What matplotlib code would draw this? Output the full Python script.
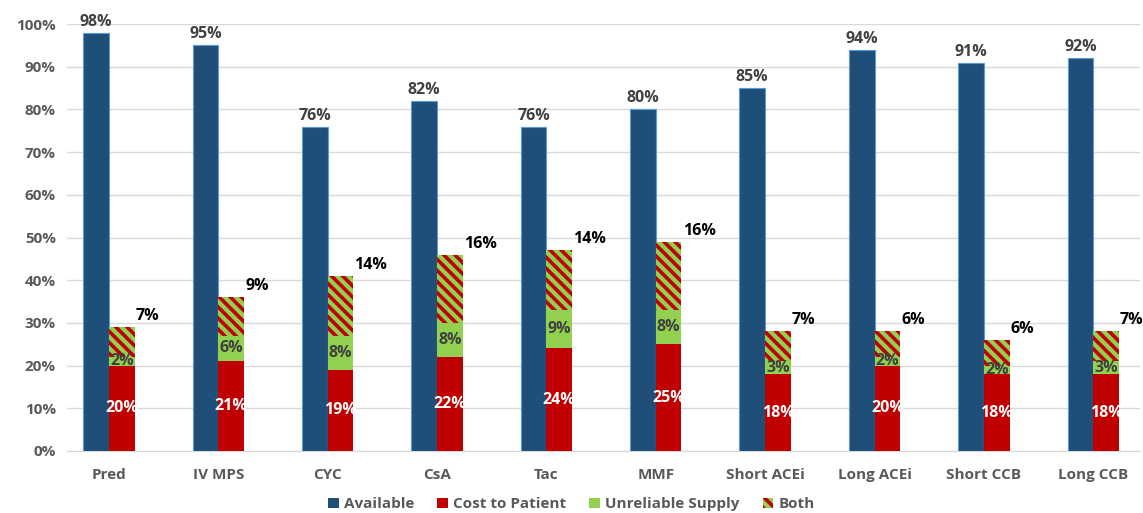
import matplotlib
matplotlib.use("Agg")
import matplotlib.pyplot as plt
from matplotlib.patches import Patch
import numpy as np

plt.rcParams['font.family'] = ['Open Sans', 'DejaVu Sans']
plt.rcParams['font.stretch'] = 'normal'
plt.rcParams['hatch.linewidth'] = 2.6

categories = ["Pred", "IV MPS", "CYC", "CsA", "Tac", "MMF",
              "Short ACEi", "Long ACEi", "Short CCB", "Long CCB"]
available = [98, 95, 76, 82, 76, 80, 85, 94, 91, 92]
cost_to_patient = [20, 21, 19, 22, 24, 25, 18, 20, 18, 18]
unreliable_supply = [2, 6, 8, 8, 9, 8, 3, 2, 2, 3]
both = [7, 9, 14, 16, 14, 16, 7, 6, 6, 7]

BLUE = "#1f4e79"
BLUE_EDGE = "#5b9bd5"
RED = "#c00000"
GREEN = "#92d050"
GRAY = "#595959"
DARK = "#404040"
FS = 11
LFS = 11.5

fig = plt.figure(figsize=(11.43, 5.13), dpi=100)
ax = fig.add_axes([0.0586, 0.121, 0.939, 0.832])

x = np.arange(len(categories))
w = 0.235
xb = x - w / 2
xs = x + w / 2

ax.bar(xb, available, width=w, color=BLUE, edgecolor=BLUE_EDGE, linewidth=0.8, zorder=3)
ax.bar(xs, cost_to_patient, width=w, color=RED, linewidth=0, zorder=3)
bottom2 = np.array(cost_to_patient)
ax.bar(xs, unreliable_supply, width=w, bottom=bottom2, color=GREEN, linewidth=0, zorder=3)
bottom3 = bottom2 + np.array(unreliable_supply)
ax.bar(xs, both, width=w, bottom=bottom3, facecolor=GREEN, edgecolor=RED,
       hatch="\\\\\\", linewidth=0, zorder=3)

for i in range(len(categories)):
    ax.text(xb[i], available[i] + 0.7, f"{available[i]}%", ha="center", va="bottom",
            fontsize=LFS, fontweight="bold", color=DARK, zorder=5)
    ax.text(xs[i], cost_to_patient[i] / 2, f"{cost_to_patient[i]}%", ha="center",
            va="center", fontsize=LFS, fontweight="bold", color="white", zorder=5)
    ax.text(xs[i], bottom2[i] + unreliable_supply[i] / 2, f"{unreliable_supply[i]}%",
            ha="center", va="center", fontsize=LFS, fontweight="bold", color=DARK, zorder=5)
    top = bottom3[i] + both[i]
    ax.text(xs[i] + w / 2 + 0.01, top + 0.7, f"{both[i]}%", ha="left", va="bottom",
            fontsize=LFS, fontweight="bold", color="black", zorder=5)

ax.set_ylim(0, 100)
ax.set_xlim(-0.384, 9.43)
ax.set_yticks(np.arange(0, 101, 10))
ax.set_yticklabels([f"{v}%" for v in range(0, 101, 10)])
ax.set_xticks(x)
ax.set_xticklabels(categories)
ax.tick_params(axis="both", length=0, labelsize=FS, colors=GRAY)
ax.tick_params(axis="x", pad=12)
ax.tick_params(axis="y", pad=8)
for lab in ax.get_xticklabels() + ax.get_yticklabels():
    lab.set_fontweight("bold")
ax.grid(axis="y", color="#d9d9d9", linewidth=1.0, zorder=0)
for s in ["top", "right", "left"]:
    ax.spines[s].set_visible(False)
ax.spines["bottom"].set_color("#d9d9d9")

handles = [
    Patch(facecolor=BLUE, label="Available"),
    Patch(facecolor=RED, label="Cost to Patient"),
    Patch(facecolor=GREEN, label="Unreliable Supply"),
    Patch(facecolor=GREEN, edgecolor=RED, hatch="\\\\\\", linewidth=0, label="Both"),
]
leg = fig.legend(handles=handles, loc="center", bbox_to_anchor=(0.5, 0.017), ncol=4,
                 frameon=False, handlelength=0.7, handleheight=0.7, handletextpad=0.35,
                 columnspacing=1.5, prop={"size": FS, "weight": "bold"})
for t in leg.get_texts():
    t.set_color(GRAY)

fig.savefig("out.png", dpi=100)
